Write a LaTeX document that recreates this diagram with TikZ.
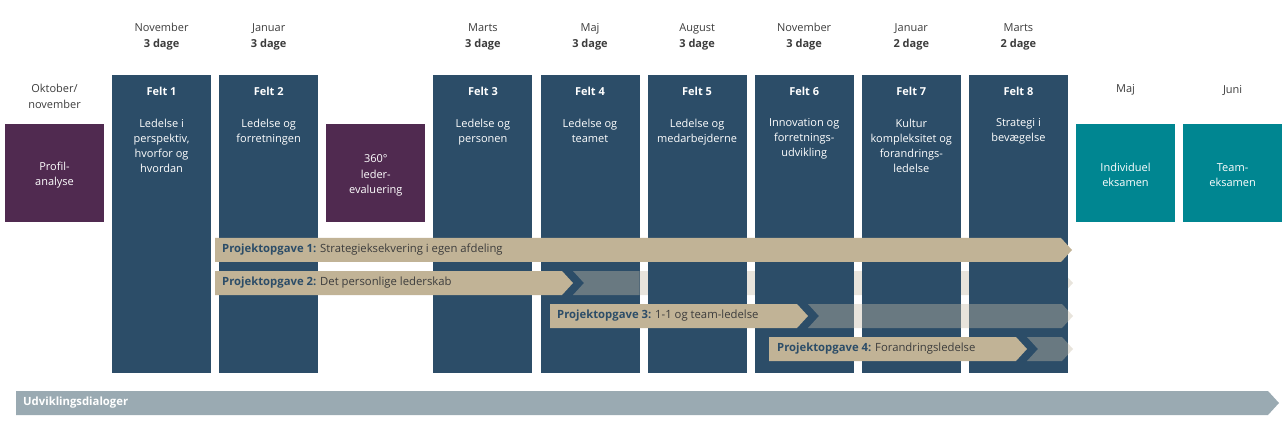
\documentclass[tikz,border=0pt]{standalone}
\usepackage{fontspec}
\setmainfont{Open Sans}
\usepackage{tikz}
\usetikzlibrary{positioning}
\definecolor{feltblue}{RGB}{44,77,104}
\definecolor{plum}{RGB}{80,42,80}
\definecolor{petrol}{RGB}{0,134,145}
\definecolor{sand}{RGB}{193,179,150}
\definecolor{sandlight}{RGB}{197,187,167}
\definecolor{sandpale}{RGB}{232,228,220}
\definecolor{dialoggray}{RGB}{154,170,178}
\definecolor{textgray}{RGB}{60,60,60}
\tikzstyle{felt} = [rectangle, minimum width=99pt, minimum height=298pt, inner sep=0pt, outer sep=0pt, fill=feltblue]
\tikzstyle{modul} = [rectangle, minimum width=99pt, minimum height=98pt, inner sep=0pt, outer sep=0pt, align=center, text=white, font=\fontsize{11}{15.5}\selectfont]
\tikzstyle{felttitle} = [text=white, inner sep=0pt, font=\bfseries\fontsize{11}{15}\selectfont]
\tikzstyle{feltdesc} = [anchor=north, inner sep=0pt, align=center, text=white, font=\fontsize{11}{15}\selectfont]
\tikzstyle{month} = [align=center, inner sep=0pt, text=textgray, font=\fontsize{11}{16}\selectfont]
\tikzstyle{opgave} = [anchor=west, inner sep=0pt, text=textgray, font=\fontsize{11.3}{13}\selectfont]
\tikzstyle{rest} = [fill=sandlight, fill opacity=0.4]

\begin{document}
\begin{tikzpicture}[x=1pt, y=-1pt, node distance=8.1pt]
    \useasboundingbox (0,0) rectangle (1288,422);

    % Projektopgave 2 - rest lies behind the felts
    \fill[sandpale] (573,271) -- (1062,271) -- (1073,283) -- (1062,295) -- (573,295) -- (584,283) -- cycle;

    % Felts
    \node (felt1) [felt, anchor=north west] at (112.1,75) {};
    \node (felt2) [felt, right=of felt1] {};
    \node (felt3) [felt, right=115.2pt of felt2] {};
    \node (felt4) [felt, right=of felt3] {};
    \node (felt5) [felt, right=of felt4] {};
    \node (felt6) [felt, right=of felt5] {};
    \node (felt7) [felt, right=of felt6] {};
    \node (felt8) [felt, right=of felt7] {};

    \node (titel1) [felttitle] at ([yshift=-16pt]felt1.north) {Felt 1};
    \node (titel2) [felttitle] at ([yshift=-16pt]felt2.north) {Felt 2};
    \node (titel3) [felttitle] at ([yshift=-16pt]felt3.north) {Felt 3};
    \node (titel4) [felttitle] at ([yshift=-16pt]felt4.north) {Felt 4};
    \node (titel5) [felttitle] at ([yshift=-16pt]felt5.north) {Felt 5};
    \node (titel6) [felttitle] at ([yshift=-16pt]felt6.north) {Felt 6};
    \node (titel7) [felttitle] at ([yshift=-16pt]felt7.north) {Felt 7};
    \node (titel8) [felttitle] at ([yshift=-16pt]felt8.north) {Felt 8};

    \node (tema1) [feltdesc] at ([yshift=-43.5pt]felt1.north) {Ledelse i\\perspektiv,\\hvorfor og\\hvordan};
    \node (tema2) [feltdesc] at ([yshift=-43.5pt]felt2.north) {Ledelse og\\forretningen};
    \node (tema3) [feltdesc] at ([yshift=-43.5pt]felt3.north) {Ledelse og\\personen};
    \node (tema4) [feltdesc] at ([yshift=-43.5pt]felt4.north) {Ledelse og\\teamet};
    \node (tema5) [feltdesc] at ([yshift=-43.5pt]felt5.north) {Ledelse og\\medarbejderne};
    \node (tema6) [feltdesc] at ([yshift=-43.5pt]felt6.north) {Innovation og\\forretnings-\\udvikling};
    \node (tema7) [feltdesc] at ([yshift=-43.5pt]felt7.north) {Kultur\\kompleksitet og\\forandrings-\\ledelse};
    \node (tema8) [feltdesc] at ([yshift=-43.5pt]felt8.north) {Strategi i\\bevægelse};

    \node (mnd1) [month] at ([yshift=38.5pt]felt1.north) {November\\\textbf{3 dage}};
    \node (mnd2) [month] at ([yshift=38.5pt]felt2.north) {Januar\\\textbf{3 dage}};
    \node (mnd3) [month] at ([yshift=38.5pt]felt3.north) {Marts\\\textbf{3 dage}};
    \node (mnd4) [month] at ([yshift=38.5pt]felt4.north) {Maj\\\textbf{3 dage}};
    \node (mnd5) [month] at ([yshift=38.5pt]felt5.north) {August\\\textbf{3 dage}};
    \node (mnd6) [month] at ([yshift=38.5pt]felt6.north) {November\\\textbf{3 dage}};
    \node (mnd7) [month] at ([yshift=38.5pt]felt7.north) {Januar\\\textbf{2 dage}};
    \node (mnd8) [month] at ([yshift=38.5pt]felt8.north) {Marts\\\textbf{2 dage}};

    % Profil, 360 and eksamen
    \node (profil) [modul, fill=plum, anchor=north west] at (5,124) {\rule{0pt}{13pt}Profil-\\analyse};
    \node (leder360) [modul, fill=plum, anchor=north west] at (326.3,124) {\rule{0pt}{13pt}360°\\leder-\\evaluering};
    \node (eksamen) [modul, fill=petrol, anchor=north west] at (1076,124) {\rule{0pt}{12pt}Individuel\\eksamen};
    \node (teameksamen) [modul, fill=petrol, right=of eksamen] {\rule{0pt}{12pt}Team-\\eksamen};

    \node (mndprofil) [month] at ([yshift=28pt]profil.north) {Oktober/\\november};
    \node (mndeksamen) [month] at ([yshift=34pt]eksamen.north) {Maj};
    \node (mndteam) [month] at ([yshift=34pt]teameksamen.north) {Juni};

    % Projektopgaver
    \fill[sand] (215,238) -- (1061,238) -- (1072,250) -- (1061,262) -- (215,262) -- cycle;
    \fill[sand] (215,271) -- (562,271) -- (573,283) -- (562,295) -- (215,295) -- cycle;
    \fill[sand] (550,304) -- (797,304) -- (808,316) -- (797,328) -- (550,328) -- cycle;
    \fill[sand] (769,337) -- (1016,337) -- (1027,349) -- (1016,361) -- (769,361) -- cycle;

    \begin{scope}
        \clip (felt4.north west) rectangle (felt4.south east);
        \fill[rest] (573,271) -- (1062,271) -- (1073,283) -- (1062,295) -- (573,295) -- (584,283) -- cycle;
    \end{scope}
    \fill[rest] (808,304) -- (1062,304) -- (1073,316) -- (1062,328) -- (808,328) -- (819,316) -- cycle;
    \fill[rest] (1027,337) -- (1062,337) -- (1073,349) -- (1062,361) -- (1027,361) -- (1038,349) -- cycle;

    \node (opg1) [opgave] at (222,250) {\textcolor{feltblue}{\textbf{Projektopgave 1:}} Strategieksekvering i egen afdeling};
    \node (opg2) [opgave] at (222,283) {\textcolor{feltblue}{\textbf{Projektopgave 2:}} Det personlige lederskab};
    \node (opg3) [opgave] at (557,316) {\textcolor{feltblue}{\textbf{Projektopgave 3:}} 1-1 og team-ledelse};
    \node (opg4) [opgave] at (777,349) {\textcolor{feltblue}{\textbf{Projektopgave 4:}} Forandringsledelse};

    % Udviklingsdialoger
    \fill[dialoggray] (16,391) -- (1268,391) -- (1279,403) -- (1268,415) -- (16,415) -- cycle;
    \node (dialog) [opgave, text=white, font=\bfseries\fontsize{11.3}{13}\selectfont] at (23,403) {Udviklingsdialoger};
\end{tikzpicture}
\end{document}
